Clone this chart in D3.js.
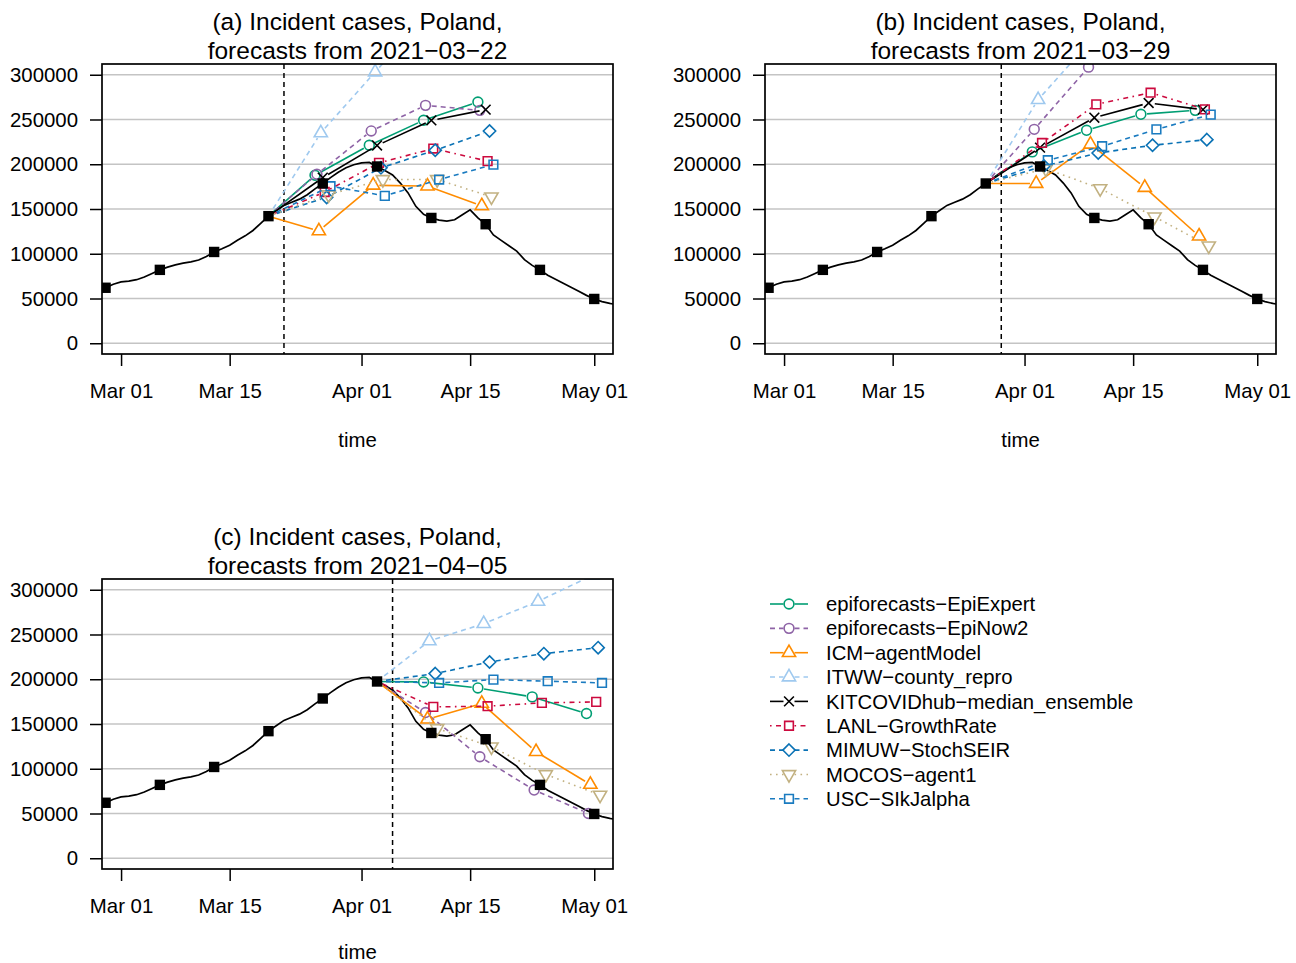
<!DOCTYPE html>
<html>
<head>
<meta charset="utf-8">
<script src="https://cdn.jsdelivr.net/npm/d3@7"></script>
<style>
  body { margin: 0; background: #fff; }
  svg { display: block; }
  text { font-family: "Liberation Sans", Arial, Helvetica, sans-serif; fill: #000; }
</style>
</head>
<body>
<svg id="chart" width="1296" height="963"></svg>
<script>
// ---------------- DATA ----------------
const truthStart = "2021-02-26";
// daily incident cases (7-day sums), Feb 26 .. May 04
const truthValues = [
  58500, 62000, 66000,
  68500, 69500, 71000, 74000, 78000, 82000, 85000, 87500, 89500, 91000,
  93000, 97000, 102000, 105500, 109500, 115000, 120000, 126000, 134000, 142000,
  148000, 154000, 157500, 161000, 166000, 172500, 178500, 185000, 191000, 196000, 199500,
  201500, 202000, 197500, 193000, 188000, 179000, 168000, 153000, 144000, 140000,
  137500, 136500, 138000, 143500, 149000, 140000, 133000, 121000, 115000, 109000,
  103000, 93500, 87000, 82000, 76000, 71500, 67000, 62500, 58000, 53500,
  49500, 46500, 44500, 43000
];
const weeklyDates = ["2021-02-27","2021-03-06","2021-03-13","2021-03-20","2021-03-27",
  "2021-04-03","2021-04-10","2021-04-17","2021-04-24","2021-05-01"];

const models = ["epiforecasts\u2212EpiExpert","epiforecasts\u2212EpiNow2","ICM\u2212agentModel",
  "ITWW\u2212county_repro","KITCOVIDhub\u2212median_ensemble","LANL\u2212GrowthRate",
  "MIMUW\u2212StochSEIR","MOCOS\u2212agent1","USC\u2212SIkJalpha"];
const modelColors = ["#009E73","#8E63A6","#FF8C00","#9FC9EF","#000000","#CC0A3E","#0A72B5","#C2B181","#1A7BC0"];
const modelLty = ["solid","dashed","solid","dashed","solid","dotdash","dashed","dotted","dashed"];
const modelShapes = ["circle","circle","triUp","triUp","cross","square","diamond","triDown","square"];

const panelTitles = [
  ["(a) Incident cases, Poland,", "forecasts from 2021\u221203\u221222"],
  ["(b) Incident cases, Poland,", "forecasts from 2021\u221203\u221229"],
  ["(c) Incident cases, Poland,", "forecasts from 2021\u221204\u221205"]
];
const forecastDates = ["2021-03-22","2021-03-29","2021-04-05"];
const originDates = ["2021-03-20","2021-03-27","2021-04-03"];

// 1..4 week ahead forecasts, one row per model (same order as models)
const forecastsA = [
  [187700, 221200, 249100, 269500],
  [188800, 237200, 265800, 260200],
  [125500, 176500, 175500, 153500],
  [235000, 303000, 370000, 440000],
  [185000, 221000, 249000, 261000],
  [169000, 201500, 217500, 203500],
  [163000, 196000, 215600, 237200],
  [166000, 183000, 183000, 163600],
  [175500, 164700, 182900, 199600]
];
const forecastsB = [
  [213800, 237900, 255800, 260200],
  [239000, 308500, 375000, 440000],
  [178400, 222300, 174000, 119700],
  [272100, 340000, 400000, 460000],
  [218600, 252000, 268400, 261000],
  [223800, 266900, 279900, 261300],
  [198000, 212600, 221200, 227500],
  [195000, 172900, 141300, 108900],
  [204500, 220100, 239000, 255400]
];
const forecastsC = [
  [197000, 190300, 180300, 161700],
  [162800, 113400, 76200, 50000],
  [155400, 172900, 119000, 82500],
  [242800, 262100, 287000, 316000],
  [null, null, null, null],
  [169100, 169900, 173600, 174700],
  [206300, 219300, 228600, 235300],
  [145000, 124500, 93700, 70600],
  [195900, 199600, 197800, 195900]
];
const panelForecasts = [forecastsA, forecastsB, forecastsC];

const xTickDates = ["2021-03-01","2021-03-15","2021-04-01","2021-04-15","2021-05-01"];
const xTickLabels = ["Mar 01","Mar 15","Apr 01","Apr 15","May 01"];
const yTicks = [0, 50000, 100000, 150000, 200000, 250000, 300000];
const xLimits = ["2021-03-01","2021-05-01"];
const yLimits = [0, 300000];
const xAxisTitle = "time";

// ---------------- DRAWING ----------------
const parse = d3.utcParse("%Y-%m-%d");
const svg = d3.select("#chart");
svg.append("rect").attr("width",1296).attr("height",963).attr("fill","#fff");

const W = 511, H = 290;
const panelPos = [{left:102, top:64, timeY:447}, {left:765, top:64, timeY:447}, {left:102, top:579, timeY:958.5}];
const FONT = '"Liberation Sans", Arial, Helvetica, sans-serif';

const dashMap = { solid: null, dashed: "5,4", dotted: "1.6,4.4", dotdash: "1.6,4.4,5,4.4" };

function shapePath(type) {
  const r = 4.9;
  switch (type) {
    case "circle": { const p = d3.path(); p.arc(0,0,r,0,2*Math.PI); p.closePath(); return p.toString(); }
    case "triUp": return `M0,${-1.555*r}L${1.347*r},${0.778*r}L${-1.347*r},${0.778*r}Z`;
    case "triDown": return `M0,${1.555*r}L${1.347*r},${-0.778*r}L${-1.347*r},${-0.778*r}Z`;
    case "square": { const s = 0.886*r; return `M${-s},${-s}H${s}V${s}H${-s}Z`; }
    case "diamond": { const s = 1.253*r; return `M0,${-s}L${s},0L0,${s}L${-s},0Z`; }
    case "cross": return `M${-r},${-r}L${r},${r}M${-r},${r}L${r},${-r}`;
  }
}

// truth series
const t0 = parse(truthStart);
const truth = truthValues.map((v,i) => ({date: d3.utcDay.offset(t0, i), value: v}));
const truthByDate = new Map(truth.map(d => [+d.date, d.value]));

const xDom = [d3.utcHour.offset(parse(xLimits[0]), -0.04*61*24), d3.utcHour.offset(parse(xLimits[1]), 0.04*61*24)];
const ySpan = yLimits[1]-yLimits[0];
const yDom = [yLimits[0]-0.04*ySpan, yLimits[1]+0.04*ySpan];

const GAP = 6.2;

panelPos.forEach((pp, pi) => {
  const x = d3.scaleUtc().domain(xDom).range([pp.left, pp.left+W]);
  const y = d3.scaleLinear().domain(yDom).range([pp.top+H, pp.top]);
  const g = svg.append("g");
  const clipId = "clip"+pi;
  svg.append("clipPath").attr("id", clipId).append("rect")
    .attr("x", pp.left).attr("y", pp.top).attr("width", W).attr("height", H);

  // gridlines
  g.selectAll(".grid").data(yTicks).join("line")
    .attr("x1", pp.left).attr("x2", pp.left+W)
    .attr("y1", d => y(d)).attr("y2", d => y(d))
    .attr("stroke", "#c4c4c4").attr("stroke-width", 1.7);

  const plot = g.append("g").attr("clip-path", `url(#${clipId})`);

  // truth line
  plot.append("path").datum(truth)
    .attr("d", d3.line().x(d => x(d.date)).y(d => y(d.value)))
    .attr("fill","none").attr("stroke","#000").attr("stroke-width",1.7);

  // forecast date
  const fd = parse(forecastDates[pi]);
  plot.append("line").attr("x1", x(fd)).attr("x2", x(fd))
    .attr("y1", pp.top).attr("y2", pp.top+H)
    .attr("stroke","#000").attr("stroke-width",1.5).attr("stroke-dasharray","5,4");

  // forecasts
  const od = parse(originDates[pi]);
  const ov = truthByDate.get(+od);
  panelForecasts[pi].forEach((vals, mi) => {
    if (vals.every(v => v == null)) return;
    const dodgeH = (mi-4)*0.25*24;
    const pts = [{px: x(od), py: y(ov), marker: false}];
    vals.forEach((v, k) => {
      const dt = d3.utcHour.offset(d3.utcDay.offset(od, 7*(k+1)), dodgeH);
      pts.push({px: x(dt), py: y(v), marker: true});
    });
    const col = modelColors[mi];
    const dash = dashMap[modelLty[mi]];
    for (let k = 0; k < pts.length-1; k++) {
      const a = pts[k], b = pts[k+1];
      const dx = b.px-a.px, dy = b.py-a.py, L = Math.hypot(dx,dy);
      const ux = dx/L, uy = dy/L;
      const sa = a.marker ? GAP : 0, sb = b.marker ? GAP : 0;
      if (L <= sa+sb) continue;
      const ln = plot.append("line")
        .attr("x1", a.px+ux*sa).attr("y1", a.py+uy*sa)
        .attr("x2", b.px-ux*sb).attr("y2", b.py-uy*sb)
        .attr("stroke", col).attr("stroke-width", 1.6);
      if (dash) ln.attr("stroke-dasharray", dash);
    }
    plot.selectAll(null).data(pts.filter(p => p.marker)).join("path")
      .attr("transform", p => `translate(${p.px},${p.py})`)
      .attr("d", shapePath(modelShapes[mi]))
      .attr("fill","none").attr("stroke", col).attr("stroke-width", 1.6);
  });

  // weekly truth points
  plot.selectAll(".tp").data(weeklyDates.map(s => parse(s))).join("rect")
    .attr("x", d => x(d)-5.2).attr("y", d => y(truthByDate.get(+d))-5.2)
    .attr("width",10.4).attr("height",10.4).attr("fill","#000");

  // box
  g.append("rect").attr("x", pp.left).attr("y", pp.top).attr("width", W).attr("height", H)
    .attr("fill","none").attr("stroke","#000").attr("stroke-width",1.7);

  // y axis
  const ya = g.append("g").attr("transform", `translate(${pp.left},0)`)
    .call(d3.axisLeft(y).tickValues(yTicks).tickFormat(d3.format("d")).tickSize(12).tickPadding(12));
  ya.select(".domain").remove();
  ya.selectAll(".tick line").attr("stroke","#000").attr("stroke-width",1.5);
  ya.selectAll("text").attr("font-size", 20.4).attr("font-family", FONT).attr("fill","#000");

  // x axis
  const xa = g.append("g").attr("transform", `translate(0,${pp.top+H})`)
    .call(d3.axisBottom(x).tickValues(xTickDates.map(s => parse(s)))
      .tickFormat((d,i) => xTickLabels[i]).tickSize(12).tickPadding(18));
  xa.select(".domain").remove();
  xa.selectAll(".tick line").attr("stroke","#000").attr("stroke-width",1.5);
  xa.selectAll("text").attr("font-size", 20.4).attr("font-family", FONT).attr("fill","#000");

  // titles
  const cx = pp.left + W/2;
  g.append("text").attr("x", cx).attr("y", pp.top-34).attr("text-anchor","middle")
    .attr("font-size", 24.5).text(panelTitles[pi][0]);
  g.append("text").attr("x", cx).attr("y", pp.top-5).attr("text-anchor","middle")
    .attr("font-size", 24.5).text(panelTitles[pi][1]);
  g.append("text").attr("x", cx).attr("y", pp.timeY).attr("text-anchor","middle")
    .attr("font-size", 20.4).text(xAxisTitle);
});

// legend
const leg = svg.append("g");
const legY0 = 604, legStep = 24.35, lx0 = 770, lx1 = 808, lxm = 789, textX = 826;
models.forEach((m, i) => {
  const yy = legY0 + i*legStep;
  const col = modelColors[i];
  const dash = dashMap[modelLty[i]];
  [[lx0, lxm-5.5],[lxm+5.5, lx1]].forEach(([a,b]) => {
    const ln = leg.append("line").attr("x1", a).attr("x2", b).attr("y1", yy).attr("y2", yy)
      .attr("stroke", col).attr("stroke-width", 1.6);
    if (dash) ln.attr("stroke-dasharray", dash);
  });
  leg.append("path").attr("transform", `translate(${lxm},${yy})`).attr("d", shapePath(modelShapes[i]))
    .attr("fill","none").attr("stroke", col).attr("stroke-width", 1.6);
  leg.append("text").attr("x", textX).attr("y", yy).attr("dy","0.35em").attr("font-size", 20.3).text(m);
});
</script>
</body>
</html>
